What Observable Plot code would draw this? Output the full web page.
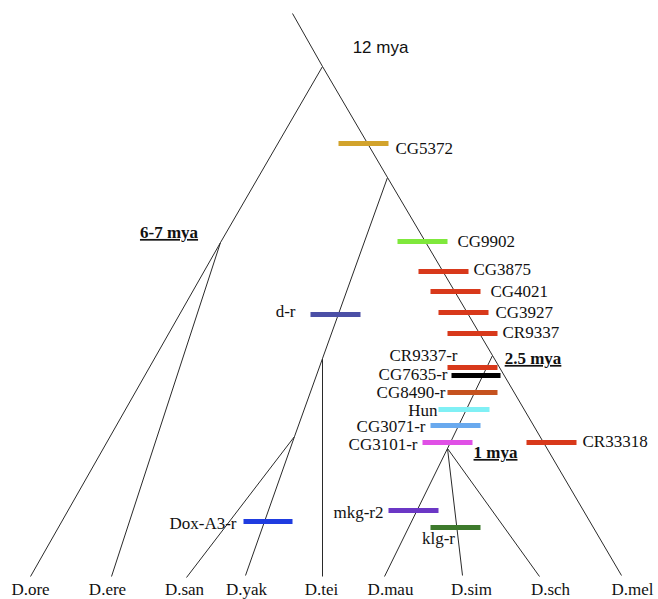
<!DOCTYPE html>
<html>
<head>
<meta charset="utf-8">
<script src="https://cdn.jsdelivr.net/npm/d3@7"></script>
<script src="https://cdn.jsdelivr.net/npm/@observablehq/plot@0.6"></script>
<style>
  html, body { margin: 0; padding: 0; background: #fff; }
</style>
</head>
<body>
<div id="chart"></div>
<script>
// ---- Tree layout (node positions in diagram units; y grows downward = towards present) ----
const nodeNames = ["top", "root", "oreEre", "A", "C", "D", "B", "E",
  "D.ore", "D.ere", "D.san", "D.yak", "D.tei", "D.mau", "D.sim", "D.sch", "D.mel"];
const nodeX = [292, 322, 220, 387, 322, 294, 492, 447,
  30, 111, 186, 245, 322, 384, 462, 539, 621];
const nodeY = [13, 66, 242, 177, 358, 436, 355, 448,
  576, 576, 577, 575, 576, 576, 575, 576, 575];

// ---- Branches (parent -> child) ----
const edgeFrom = ["top", "root", "oreEre", "oreEre", "root", "A", "C", "D", "D", "C", "A", "B", "E", "E", "E", "B"];
const edgeTo   = ["root", "oreEre", "D.ore", "D.ere", "A", "C", "D", "D.san", "D.yak", "D.tei", "B", "E", "D.mau", "D.sim", "D.sch", "D.mel"];

// ---- Species tip labels ----
const species = ["D.ore", "D.ere", "D.san", "D.yak", "D.tei", "D.mau", "D.sim", "D.sch", "D.mel"];
const speciesLabelX = [30, 107, 184, 246, 321, 390, 471, 550, 632];
const speciesLabelY = 589;

// ---- Gene markers ----
const geneNames = ["CG5372", "CG9902", "CG3875", "CG4021", "CG3927", "CR9337", "CR9337-r", "CG7635-r",
  "CG8490-r", "Hun", "CG3071-r", "CG3101-r", "CR33318", "d-r", "Dox-A3-r", "mkg-r2", "klg-r"];
const geneX1 = [338, 397, 418, 430, 438, 447, 447, 451, 447, 438, 430, 422, 526, 310, 243, 388, 430];
const geneX2 = [388, 447, 468, 480, 488, 497, 497, 500, 497, 489, 480, 472, 576, 360, 292, 438, 480];
const geneY  = [143, 241, 271, 291, 312, 333, 367, 375, 392, 409, 425, 442, 442, 314, 521, 510, 527];
const geneColors = ["#d2a32c", "#7fe83c", "#d8391b", "#d8391b", "#d8391b", "#d8391b", "#d8391b", "#000000",
  "#c5521f", "#80f0f5", "#69a9ee", "#e050e6", "#d8391b", "#4b4fa6", "#1f3ce0", "#6b37c5", "#3d7a2c"];
const geneLabelX = [395, 457, 473, 490, 495, 502, 457, 447, 445, 437, 425, 417, 582, 295, 236, 383, 438];
const geneLabelY = [148, 241, 269, 291, 312, 332, 355.5, 374, 392.5, 410, 426, 444, 441, 311, 523, 512, 538];
const geneLabelAnchor = ["start", "start", "start", "start", "start", "start", "end", "end",
  "end", "end", "end", "end", "start", "end", "end", "end", "middle"];

// ---- Divergence-time annotations ----
const ageLabels = ["6-7 mya", "2.5 mya", "1 mya"];
const ageX = [168.5, 532.5, 495];
const ageY = [232, 358, 452];
const rootAge = "12 mya";
const rootAgeX = 380, rootAgeY = 47.5;

// ---- Build tables ----
const pos = new Map(nodeNames.map((n, i) => [n, [nodeX[i], nodeY[i]]]));
const edges = edgeFrom.map((f, i) => ({
  x1: pos.get(f)[0], y1: pos.get(f)[1], x2: pos.get(edgeTo[i])[0], y2: pos.get(edgeTo[i])[1]
}));
const tips = species.map((s, i) => ({name: s, x: speciesLabelX[i], y: speciesLabelY}));
const genes = geneNames.map((g, i) => ({
  name: g, x1: geneX1[i], x2: geneX2[i], y: geneY[i], color: geneColors[i],
  lx: geneLabelX[i], ly: geneLabelY[i], anchor: geneLabelAnchor[i]
}));
const ages = ageLabels.map((a, i) => ({name: a, x: ageX[i], y: ageY[i]}));

const serif = "'Liberation Serif', 'Times New Roman', serif";

const chart = Plot.plot({
  width: 658,
  height: 599,
  margin: 0,
  x: {domain: [0, 658], axis: null},
  y: {domain: [0, 599], reverse: true, axis: null},
  style: {background: "#fff", fontFamily: serif},
  marks: [
    Plot.link(edges, {x1: "x1", y1: "y1", x2: "x2", y2: "y2", stroke: "#2a2a2a", strokeWidth: 1}),
    Plot.link(genes, {x1: "x1", x2: "x2", y1: "y", y2: "y", stroke: d => d.color, strokeWidth: 5}),
    ...["start", "end", "middle"].map(a =>
      Plot.text(genes.filter(d => d.anchor === a), {x: "lx", y: "ly", text: "name", textAnchor: a,
        fontSize: 17, fill: "#111", fontFamily: serif})),
    Plot.text(tips, {x: "x", y: "y", text: "name", fontSize: 17, fill: "#111", fontFamily: serif}),
    Plot.text(ages, {x: "x", y: "y", text: "name", fontSize: 17, fontWeight: "bold", fill: "#111",
      fontFamily: serif}),
    Plot.text([rootAge], {x: () => rootAgeX, y: () => rootAgeY, text: d => d, fontSize: 17, fill: "#111",
      fontFamily: "'Liberation Sans', Arial, sans-serif"})
  ]
});
document.getElementById("chart").appendChild(chart);

// underline the divergence-time labels
d3.select(chart).selectAll("text")
  .filter(function () { return ageLabels.includes(this.textContent); })
  .attr("text-decoration", "underline")
  .style("text-decoration", "underline");
</script>
</body>
</html>
